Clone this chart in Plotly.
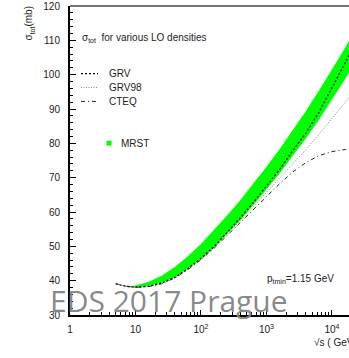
import plotly.graph_objects as go

# ---------------- data ----------------
sqrt_s = [5, 7, 10, 16, 25, 40, 63, 100, 160, 250, 400, 630, 1000, 1600, 2500, 4000, 6300, 10000, 16000, 20000]
grv    = [39.1, 38.4, 38.1, 38.4, 39.3, 41.0, 43.5, 46.5, 50.0, 54.0, 58.3, 62.8, 67.5, 72.5, 77.8, 83.0, 89.0, 96.0, 103.5, 107.3]
grv98  = [39.1, 38.4, 38.0, 38.3, 39.1, 40.8, 43.3, 46.2, 49.6, 53.4, 57.4, 61.5, 65.7, 69.9, 74.0, 78.2, 82.6, 87.2, 92.0, 94.6]
cteq   = [39.1, 38.4, 38.0, 38.3, 39.1, 40.8, 43.2, 46.1, 49.5, 53.2, 57.0, 60.8, 64.6, 68.3, 71.6, 74.4, 76.4, 77.6, 78.2, 78.4]

mrst_s     = [8, 10, 16, 25, 40, 63, 100, 160, 250, 400, 630, 1000, 1600, 2500, 4000, 6300, 10000, 16000, 20000]
mrst_lower = [38.2, 38.1, 38.5, 39.4, 41.1, 43.5, 46.4, 49.8, 53.6, 57.7, 62.0, 66.5, 71.3, 76.3, 81.4, 86.8, 92.6, 98.8, 102.0]
mrst_upper = [38.3, 38.6, 39.7, 41.4, 44.0, 47.1, 50.7, 54.8, 59.0, 63.5, 68.2, 73.2, 78.4, 83.8, 89.4, 95.3, 101.4, 107.9, 111.3]

x_tickvals = [1, 10, 100, 1000, 10000]
x_ticktext = ["1", "10", "10<sup>2</sup>", "10<sup>3</sup>", "10<sup>4</sup>"]
series_names = ["GRV", "GRV98", "CTEQ", "MRST"]

FONT = "Liberation Sans, Arial, sans-serif"
GREEN = "#00ff00"

fig = go.Figure()

# MRST band
fig.add_trace(go.Scatter(x=mrst_s, y=mrst_lower, mode="lines", line=dict(width=0, color=GREEN),
                         showlegend=False, hoverinfo="skip"))
fig.add_trace(go.Scatter(x=mrst_s, y=mrst_upper, mode="lines", line=dict(width=0, color=GREEN),
                         fill="tonexty", fillcolor=GREEN, showlegend=False, name=series_names[3]))

fig.add_trace(go.Scatter(x=sqrt_s, y=cteq, mode="lines", name=series_names[2],
                         line=dict(color="#222222", width=1, dash="4px,3px,1px,3px"), showlegend=False))
fig.add_trace(go.Scatter(x=sqrt_s, y=grv98, mode="lines", name=series_names[1],
                         line=dict(color="#888888", width=1, dash="1px,1.5px"), showlegend=False))
fig.add_trace(go.Scatter(x=sqrt_s, y=grv, mode="lines", name=series_names[0],
                         line=dict(color="#000000", width=1.2, dash="2px,2px"), showlegend=False))

# ---------- manual legend (pixel positions converted to paper) ----------
L, T, B, R = 70, 4, 315, 349
PW, PH = R - L, B - T

def px(x):
    return (x - L) / PW

def py(y):
    return (B - y) / PH

shapes = []
leg_y = [72, 86, 100]
leg_styles = [dict(color="#000000", width=1.2, dash="2px,2px"),
              dict(color="#888888", width=1, dash="1px,1.5px"),
              dict(color="#222222", width=1, dash="4px,3px,1px,3px")]
annotations = []
for name, yy, st in zip(series_names[:3], leg_y, leg_styles):
    shapes.append(dict(type="line", xref="paper", yref="paper", x0=px(81), x1=px(98), y0=py(yy), y1=py(yy), line=st))
    annotations.append(dict(text=name, xref="paper", yref="paper", x=px(107), y=py(yy), xanchor="left",
                            yanchor="middle", showarrow=False, font=dict(family=FONT, size=10, color="#222")))
shapes.append(dict(type="rect", xref="paper", yref="paper", x0=px(106.5), x1=px(111.5), y0=py(144.5), y1=py(139.5),
                   fillcolor=GREEN, line=dict(width=0)))
annotations.append(dict(text=series_names[3], xref="paper", yref="paper", x=px(119), y=py(142), xanchor="left",
                        yanchor="middle", showarrow=False, font=dict(family=FONT, size=10, color="#222")))

# top frame line
shapes.append(dict(type="line", xref="paper", yref="paper", x0=0, x1=1.05, y0=1, y1=1,
                   line=dict(color="#444444", width=1.5)))

annotations += [
    dict(text="σ<sub>tot</sub>  for various LO densities", xref="paper", yref="paper", x=px(80), y=py(36),
         xanchor="left", yanchor="middle", showarrow=False, font=dict(family=FONT, size=10, color="#222")),
    dict(text="σ<sub>tot</sub>(mb)", xref="paper", yref="paper", x=px(29), y=py(2), textangle=-90,
         xanchor="center", yanchor="top", showarrow=False, font=dict(family=FONT, size=10, color="#222")),
    dict(text="p<sub>tmin</sub>=1.15 GeV", xref="paper", yref="paper", x=px(265), y=py(279),
         xanchor="left", yanchor="middle", showarrow=False, font=dict(family=FONT, size=10, color="#222")),
    dict(text="√s ( GeV)", xref="paper", yref="paper", x=px(312), y=py(343),
         xanchor="left", yanchor="middle", showarrow=False, font=dict(family=FONT, size=10, color="#222")),
    dict(text="EDS 2017 Prague", xref="paper", yref="paper", x=px(48), y=py(300),
         xanchor="left", yanchor="middle", showarrow=False,
         font=dict(family="Open Sans, sans-serif", size=30, color="rgba(130,130,130,0.95)")),
]

fig.update_layout(
    width=349, height=358,
    margin=dict(l=L, r=0, t=T, b=358 - B, pad=0),
    paper_bgcolor="white", plot_bgcolor="white",
    showlegend=False,
    font=dict(family=FONT, size=10, color="#222"),
    shapes=shapes, annotations=annotations,
    xaxis=dict(type="log", range=[0, 4.26], tickvals=x_tickvals, ticktext=x_ticktext,
               ticks="inside", ticklen=5, tickwidth=1, tickcolor="black",
               minor=dict(ticks="inside", ticklen=3, dtick="D1", tickcolor="black", showgrid=False),
               showline=True, linecolor="black", linewidth=2, showgrid=False, zeroline=False,
               ticklabelstandoff=4, ticklabeloverflow="allow",
               tickfont=dict(size=10, family=FONT, color="#222")),
    yaxis=dict(range=[30, 120], dtick=10, ticks="inside", ticklen=6, tickwidth=1, tickcolor="black",
               minor=dict(ticks="inside", ticklen=3, dtick=2, tickcolor="black", showgrid=False),
               showline=True, linecolor="black", linewidth=2, showgrid=False, zeroline=False,
               ticklabelstandoff=6, ticklabeloverflow="allow",
               tickfont=dict(size=10, family=FONT, color="#222")),
)

fig.write_html("out.html")
